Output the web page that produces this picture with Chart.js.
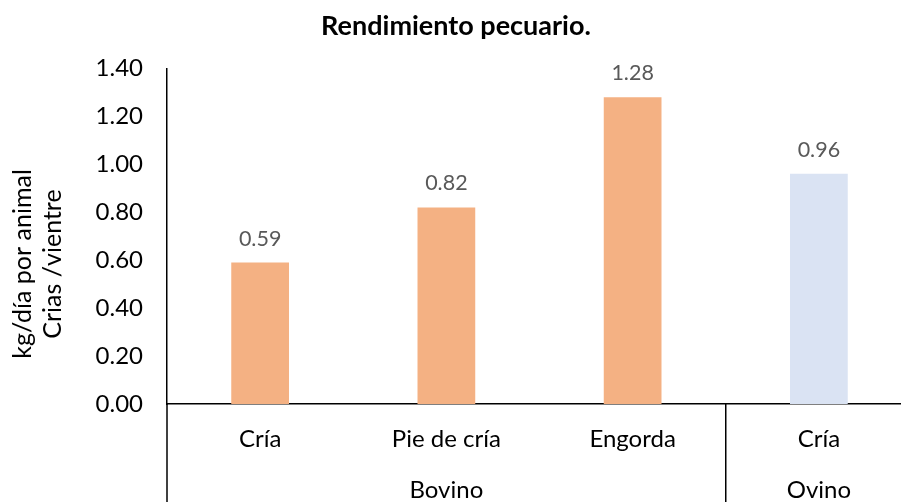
<!DOCTYPE html>
<html>
<head>
<meta charset="utf-8">
<script src="https://cdn.jsdelivr.net/npm/chart.js@4.4.0/dist/chart.umd.min.js"></script>
<style>
  html, body { margin: 0; padding: 0; background: #fff; overflow: hidden; }
  #wrap { width: 922px; height: 502px; }
</style>
</head>
<body>
<div id="wrap"><canvas id="rendimiento"></canvas></div>
<script>
const categories = ['Cría', 'Pie de cría', 'Engorda', 'Cría'];
const groups = ['Bovino', 'Bovino', 'Bovino', 'Ovino'];
const values = [0.59, 0.82, 1.28, 0.96];
const barColors = ['#F4B183', '#F4B183', '#F4B183', '#DAE3F3'];
const yTicks = [0, 0.2, 0.4, 0.6, 0.8, 1.0, 1.2, 1.4];
const yTitle = ['kg/día por animal', 'Crias /vientre'];

const FONT = 'Lato';

// value labels above each bar
const valueLabels = {
  id: 'valueLabels',
  afterDatasetsDraw(chart) {
    const ctx = chart.ctx;
    const meta = chart.getDatasetMeta(0);
    ctx.save();
    ctx.font = '21.5px ' + FONT;
    ctx.fillStyle = '#595959';
    ctx.textAlign = 'center';
    ctx.textBaseline = 'alphabetic';
    meta.data.forEach((bar, i) => {
      ctx.fillText(values[i].toFixed(2), bar.x, bar.y - 17);
    });
    ctx.restore();
  }
};

// second level of the category axis, group dividers and y-axis title
const groupAxis = {
  id: 'groupAxis',
  afterDraw(chart) {
    const ctx = chart.ctx;
    const x = chart.scales.x;
    const area = chart.chartArea;
    const bottom = chart.height;
    ctx.save();
    ctx.strokeStyle = '#000';
    ctx.lineWidth = 1.5;

    // left axis line continues down through the label rows
    ctx.beginPath();
    ctx.moveTo(area.left, area.bottom);
    ctx.lineTo(area.left, bottom);
    ctx.stroke();

    ctx.font = '24px ' + FONT;
    ctx.fillStyle = '#000';
    ctx.textAlign = 'center';
    ctx.textBaseline = 'middle';

    let start = 0;
    for (let i = 1; i <= groups.length; i++) {
      if (i === groups.length || groups[i] !== groups[start]) {
        const left = start === 0 ? area.left : (x.getPixelForValue(start - 1) + x.getPixelForValue(start)) / 2;
        const right = i === groups.length ? area.right : (x.getPixelForValue(i - 1) + x.getPixelForValue(i)) / 2;
        ctx.fillText(groups[start], (left + right) / 2, 490);
        if (i < groups.length) {
          ctx.beginPath();
          ctx.moveTo(right, area.bottom);
          ctx.lineTo(right, bottom);
          ctx.stroke();
        }
        start = i;
      }
    }

    // rotated y-axis title, two lines
    ctx.font = '25px ' + FONT;
    ctx.translate(38, 264);
    ctx.rotate(-Math.PI / 2);
    ctx.fillText(yTitle[0], 0, -15);
    ctx.fillText(yTitle[1], 0, 15);
    ctx.restore();
  }
};

new Chart(document.getElementById('rendimiento'), {
  type: 'bar',
  data: {
    labels: categories,
    datasets: [{
      data: values,
      backgroundColor: barColors,
      borderWidth: 0,
      barPercentage: 0.31,
      categoryPercentage: 1
    }]
  },
  options: {
    responsive: true,
    maintainAspectRatio: false,
    animation: false,
    layout: { padding: { left: 0, right: 10, top: 0, bottom: 0 } },
    plugins: {
      legend: { display: false },
      tooltip: { enabled: false },
      title: {
        display: true,
        text: 'Rendimiento pecuario.',
        color: '#000',
        font: { family: FONT, size: 27, weight: 'bold' },
        padding: { top: 10, bottom: 26 }
      }
    },
    scales: {
      x: {
        grid: { display: false, drawTicks: false },
        border: { color: '#000', width: 1.5 },
        ticks: {
          color: '#000',
          font: { family: FONT, size: 24 },
          padding: 21,
          maxRotation: 0
        },
        afterFit(scale) { scale.height = 98; }
      },
      y: {
        min: 0,
        max: 1.4,
        afterBuildTicks(scale) { scale.ticks = yTicks.map(v => ({ value: v })); },
        grid: { display: false, drawTicks: false },
        border: { color: '#000', width: 1.5 },
        ticks: {
          color: '#000',
          font: { family: FONT, size: 24 },
          padding: 24,
          callback: v => v.toFixed(2)
        },
        afterFit(scale) { scale.width = 167; }
      }
    }
  },
  plugins: [valueLabels, groupAxis]
});
</script>
</body>
</html>
